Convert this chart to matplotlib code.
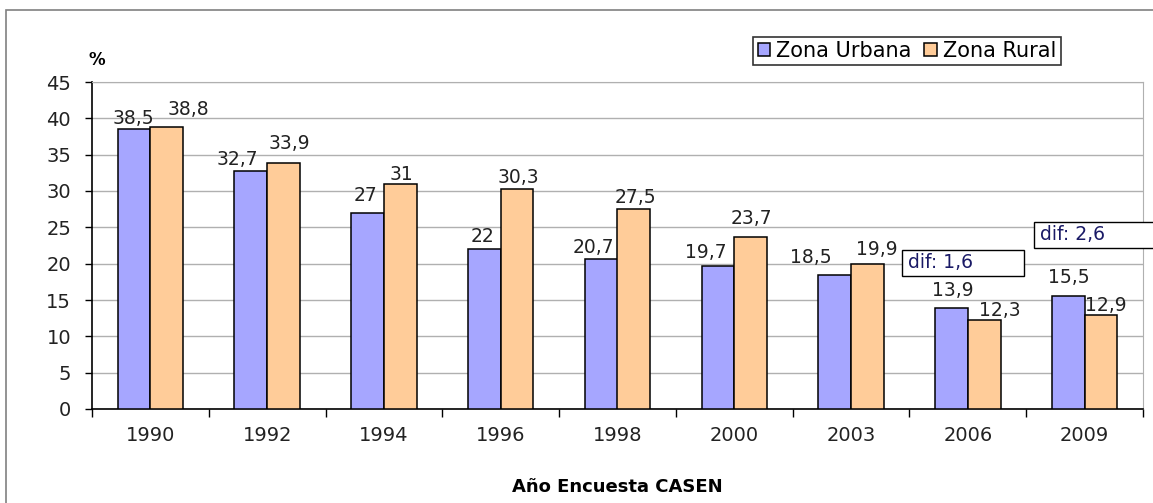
import numpy as np
import matplotlib.pyplot as plt
from matplotlib.patches import Rectangle

years = ["1990", "1992", "1994", "1996", "1998", "2000", "2003", "2006", "2009"]
urbana = [38.5, 32.7, 27, 22, 20.7, 19.7, 18.5, 13.9, 15.5]
rural = [38.8, 33.9, 31, 30.3, 27.5, 23.7, 19.9, 12.3, 12.9]
urbana_txt = ["38,5", "32,7", "27", "22", "20,7", "19,7", "18,5", "13,9", "15,5"]
rural_txt = ["38,8", "33,9", "31", "30,3", "27,5", "23,7", "19,9", "12,3", "12,9"]
dif_txt = ["dif: 1,6", "dif: 2,6"]

# label offsets in pixels (hand placed in the original chart)
urb_dx = [-1, -13, -2, -2, -8, -12, -24, 1, 1]
urb_dy = [5, 6, 12, 7, 6, 8, 12, 12, 13]
rur_dx = [22, 6, 1, 1, 2, 1, 9, 16, 5]
rur_dy = [12, 14, 4, 6, 6, 13, 9, 4, 4]

c_urb = "#a6a6ff"
c_rur = "#ffcc99"

plt.rcParams['font.family'] = ['DejaVu Sans']
fig = plt.figure(figsize=(11.53, 5.03), dpi=100)
ax = fig.add_axes([92 / 1153, 1 - 409 / 503, (1143 - 92) / 1153, (409 - 82) / 503])

# outer chart frame
fig.patches.append(Rectangle((6 / 1153, -0.05), 1.0, 1 - 10 / 503 + 0.05,
                             transform=fig.transFigure, fill=False,
                             edgecolor="#808080", lw=1.2))

x = np.arange(len(years))
w = 0.28
b1 = ax.bar(x - w / 2, urbana, w, color=c_urb, edgecolor="black", lw=1.1,
            label="Zona Urbana", zorder=3)
b2 = ax.bar(x + w / 2, rural, w, color=c_rur, edgecolor="black", lw=1.1,
            label="Zona Rural", zorder=3)

for i in range(len(years)):
    ax.annotate(urbana_txt[i], (x[i] - w / 2, urbana[i]), xytext=(urb_dx[i], urb_dy[i]),
                textcoords="offset pixels", ha="center", va="baseline", fontsize=13.5,
                color="#222222", zorder=4)
    ax.annotate(rural_txt[i], (x[i] + w / 2, rural[i]), xytext=(rur_dx[i], rur_dy[i]),
                textcoords="offset pixels", ha="center", va="baseline", fontsize=13.5,
                color="#222222", zorder=4)

# "dif" call-out boxes (the second one runs off the right edge like the original)
ax.add_patch(Rectangle((6.435, 18.3), 1.045, 3.6, fc="white", ec="black", lw=1,
                       zorder=5, clip_on=False))
ax.text(6.49, 20.1, dif_txt[0], fontsize=13.5, color="#1a1a66",
        va="center", ha="left", zorder=6)
ax.add_patch(Rectangle((7.565, 22.15), 1.2, 3.6, fc="white", ec="black", lw=1,
                       zorder=5, clip_on=False))
ax.text(7.62, 23.95, dif_txt[1], fontsize=13.5, color="#1a1a66",
        va="center", ha="left", zorder=6, clip_on=False)

ax.set_xlim(-0.5, len(years) - 0.5)
ax.set_ylim(0, 45)
ax.set_yticks(np.arange(0, 46, 5))
ax.tick_params(axis="y", labelsize=14, length=5, width=1, colors="black",
               labelcolor="#222222", pad=10)
ax.set_xticks(x)
ax.set_xticklabels(years, fontsize=14, color="#222222")
ax.tick_params(axis="x", length=0, pad=12)
ax.set_xticks(np.arange(-0.5, len(years), 1), minor=True)
ax.tick_params(axis="x", which="minor", length=6, width=1, color="black")

ax.grid(axis="y", color="#b0b0b0", lw=1, zorder=0)
for s in ["top", "right"]:
    ax.spines[s].set_color("#b0b0b0")
ax.spines["left"].set_linewidth(1.2)
ax.spines["bottom"].set_linewidth(1.2)

ax.set_xlabel("Año Encuesta CASEN", fontsize=13, fontweight="bold", labelpad=24)
fig.text(97 / 1153, 1 - 60 / 503, "%", fontsize=12, fontweight="bold", ha="center", va="center")

leg = fig.legend(handles=[b1, b2], loc="center", bbox_to_anchor=(907 / 1153, 1 - 51 / 503),
                 ncol=2, fontsize=15, frameon=True, fancybox=False, edgecolor="black",
                 handlelength=0.6, handleheight=0.6, handletextpad=0.3, columnspacing=0.6,
                 borderpad=0.2, borderaxespad=0)
leg.get_frame().set_linewidth(1.2)

fig.savefig("out.png", dpi=100)
